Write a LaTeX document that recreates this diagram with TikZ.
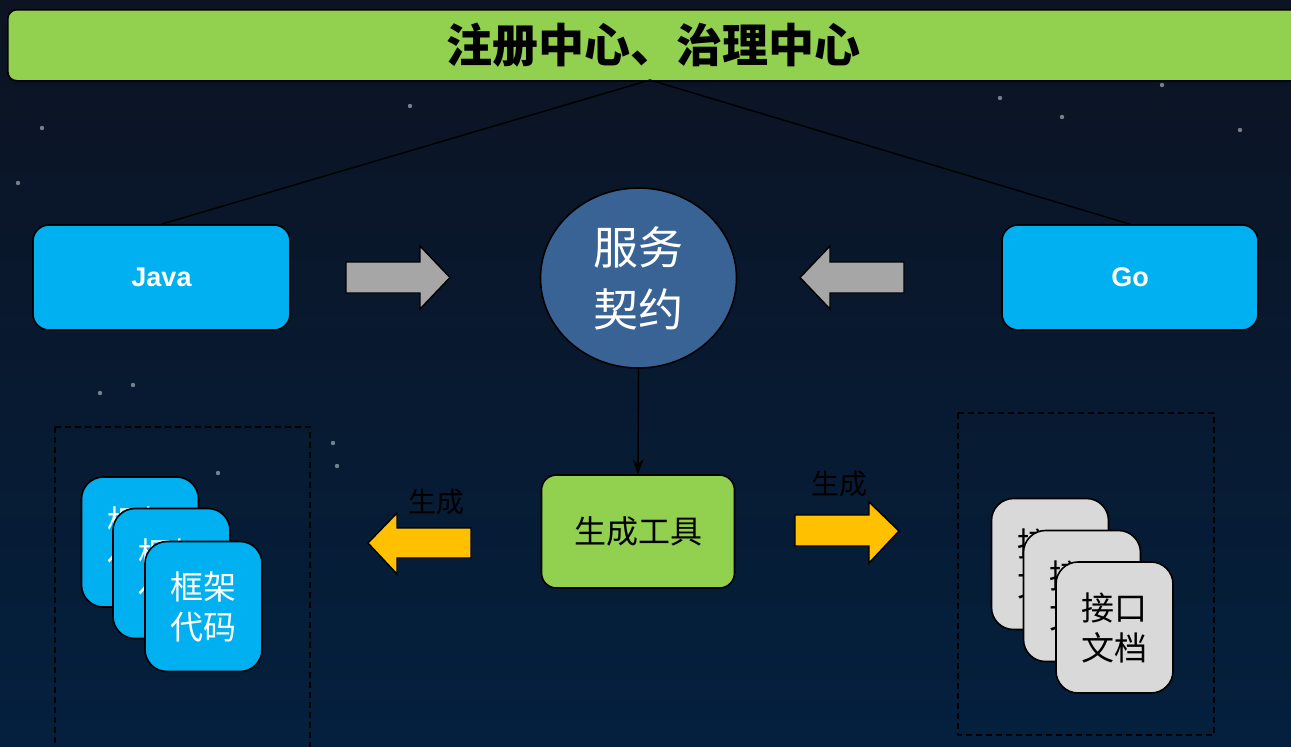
\documentclass[tikz,border=0pt]{standalone}
\usepackage{fontspec}
\newfontfamily\cjk{Noto Sans CJK SC}
\newfontfamily\lat{Liberation Sans}
\usetikzlibrary{arrows.meta,shapes.geometric}
\definecolor{bgtop}{HTML}{0C1322}
\definecolor{bgbot}{HTML}{04203E}
\definecolor{lgreen}{HTML}{92D050}
\definecolor{cyanb}{HTML}{00B0F0}
\definecolor{contract}{HTML}{386394}
\definecolor{garrow}{HTML}{A6A6A6}
\definecolor{yarrow}{HTML}{FFC000}
\definecolor{lgray}{HTML}{D9D9D9}
\tikzset{
  box/.style={draw=black, line width=1.6pt, inner sep=0pt, align=center},
  langbox/.style={box, fill=cyanb, rounded corners=16pt, minimum width=257pt, minimum height=105pt, text=white, font=\lat\bfseries\fontsize{27}{30}\selectfont},
  bluecard/.style={box, fill=cyanb, rounded corners=22pt, minimum width=117pt, minimum height=130pt, text=white, font=\cjk\fontsize{33}{40}\selectfont},
  graycard/.style={box, fill=lgray, rounded corners=22pt, minimum width=117pt, minimum height=131pt, text=black, font=\cjk\fontsize{33}{40}\selectfont},
  blockarrow/.style={draw=black, line width=1.4pt, line join=miter},
  framebox/.style={draw=black, line width=1.5pt, dash pattern=on 6pt off 4pt},
  label/.style={text=black, font=\cjk\fontsize{28}{32}\selectfont, inner sep=0pt},
  link/.style={draw=black, line width=1.4pt},
  star/.style={fill=white, opacity=0.45}
}
\begin{document}
\begin{tikzpicture}[x=1pt,y=-1pt]
\useasboundingbox (0,0) rectangle (1291,747);
\shade[top color=bgtop, bottom color=bgbot] (0,0) rectangle (1291,747);
% faint stars
\foreach \p in {(410,106),(42,128),(18,183),(1000,98),(1062,117),(100,393),(133,385),(218,473),(333,443),(337,466),(1162,85),(1240,130)}
  \fill[star] \p circle (2.2pt);
% top bar
\node[box, fill=lgreen, rounded corners=9pt, minimum width=1293pt, minimum height=71pt, anchor=north west] (bar) at (7,9) {};
\node[font=\cjk\bfseries\fontsize{46}{52}\selectfont, text=black, inner sep=0pt] (title) at (653,45) {注册中心、治理中心};
% language boxes
\node[langbox] (java) at (161.5,277.5) {Java};
\node[langbox, minimum width=256pt] (go) at (1130,277.5) {Go};
\draw[link] (650,80) coordinate (barpt) -- (java.north);
\draw[link] (barpt) -- (go.north);
% service contract
\node[box, ellipse, fill=contract, minimum width=196pt, minimum height=180pt, text=white,
      font=\cjk\fontsize{45}{62}\selectfont] (svc) at (638.5,278) {服务\\契约};
% gray block arrows
\draw[blockarrow, fill=garrow] (346,262) -- (420,262) -- (420,246) -- (450,277.5) -- (420,309) -- (420,293) -- (346,293) -- cycle;
\draw[blockarrow, fill=garrow] (904,262) -- (830,262) -- (830,246) -- (800,277.5) -- (830,309) -- (830,293) -- (904,293) -- cycle;
% generator tool
\node[box, fill=lgreen, rounded corners=15pt, minimum width=193pt, minimum height=113pt, text=black,
      font=\cjk\fontsize{32}{38}\selectfont] (gen) at (638,531.5) {生成工具};
\draw[link, -{Stealth[length=15pt,width=11pt]}] (svc.south) -- (gen.north);
% yellow block arrows
\draw[blockarrow, fill=yarrow] (471,528) -- (397,528) -- (397,513) -- (368,543) -- (397,574) -- (397,558) -- (471,558) -- cycle;
\draw[blockarrow, fill=yarrow] (795,515) -- (869,515) -- (869,502) -- (899,531) -- (869,563) -- (869,546) -- (795,546) -- cycle;
\node[label] (genl) at (436,502) {生成};
\node[label] (genr) at (839,484) {生成};
% dashed frames
\draw[framebox] (55,427) rectangle (310,760);
\draw[framebox] (958,413) rectangle (1214,735);
% blue cards (stacked)
\node[bluecard] (fc1) at (140,542) {框架\\代码};
\node[bluecard] (fc2) at (171.5,573.5) {框架\\代码};
\node[bluecard] (fc3) at (203.5,606.5) {框架\\代码};
% gray cards (stacked)
\node[graycard] (dc1) at (1050,564) {接口\\文档};
\node[graycard] (dc2) at (1082,596) {接口\\文档};
\node[graycard] (dc3) at (1114.5,627.5) {接口\\文档};
\end{tikzpicture}
\end{document}
